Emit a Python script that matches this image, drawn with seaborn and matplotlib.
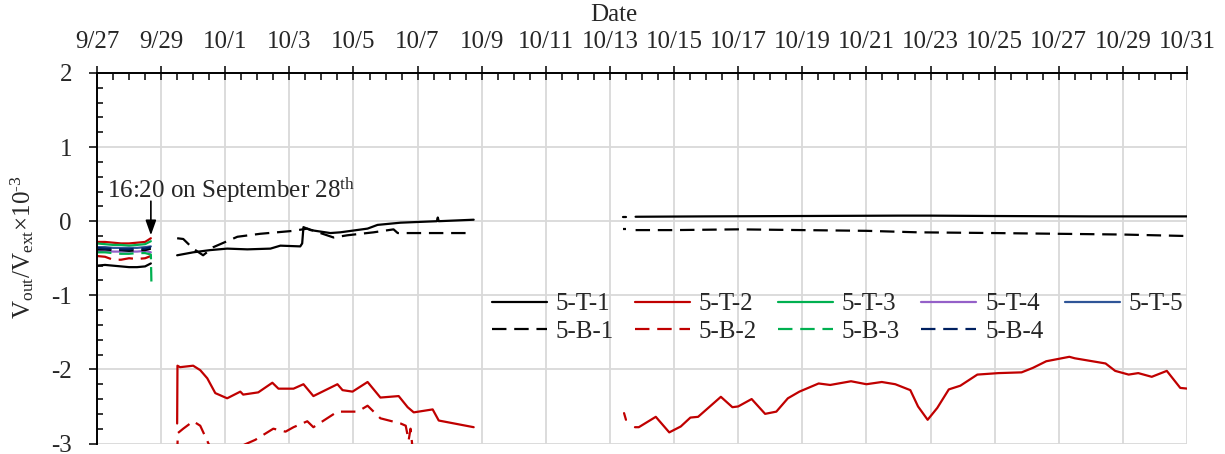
import pandas as pd
import matplotlib
matplotlib.use("Agg")
import matplotlib.pyplot as plt
import seaborn as sns

# ---------------------------------------------------------------- data
START = pd.Timestamp("2019-09-27")          # time axis origin (days since 27 Sep 00:00)

sensors = ["5-T-1", "5-T-2", "5-T-3", "5-T-4", "5-T-5",
           "5-B-1", "5-B-2", "5-B-3", "5-B-4"]
colors = ["#000000", "#C00000", "#00B050", "#9460C8", "#2F5597",
          "#000000", "#C00000", "#00B050", "#002060"]

x_tick_labels = ["9/27", "9/29", "10/1", "10/3", "10/5", "10/7", "10/9", "10/11",
                 "10/13", "10/15", "10/17", "10/19", "10/21", "10/23", "10/25",
                 "10/27", "10/29", "10/31"]
y_ticks = [-3, -2, -1, 0, 1, 2]
y_tick_labels = ["-3", "-2", "-1", "0", "1", "2"]

# first period: all gauges, until 16:20 on 28 Sep
early_days = [0.0, 0.25, 0.5, 0.75, 1.0, 1.25, 1.5, 1.68]
t1_early = [-0.60, -0.59, -0.60, -0.61, -0.62, -0.62, -0.61, -0.57]
t2_early = [-0.28, -0.28, -0.29, -0.30, -0.30, -0.29, -0.28, -0.23]
t3_early = [-0.30, -0.31, -0.32, -0.32, -0.33, -0.32, -0.31, -0.27]
t4_early = [-0.40, -0.40, -0.41, -0.41, -0.41, -0.41, -0.40, -0.42]
t5_early = [-0.35, -0.35, -0.36, -0.36, -0.36, -0.36, -0.35, -0.34]
b1_early = [-0.38, -0.38, -0.39, -0.39, -0.40, -0.39, -0.39, -0.37]
b2_early = [-0.47, -0.48, -0.52, -0.52, -0.50, -0.51, -0.50, -0.47]
b3_early_days = [0.0, 0.25, 0.5, 0.75, 1.0, 1.25, 1.5, 1.68, 1.70]
b3_early = [-0.42, -0.42, -0.43, -0.44, -0.44, -0.43, -0.43, -0.45, -0.90]
b4_early = [-0.36, -0.37, -0.37, -0.38, -0.38, -0.37, -0.37, -0.35]

# second period: 29 Sep - 8 Oct
t1_mid_days = [2.50, 2.75, 3.00, 3.53, 4.06, 4.69, 5.41, 5.72, 6.34, 6.40, 6.44,
               6.66, 7.28, 7.59, 8.44, 8.75, 9.47, 10.60, 10.63, 10.66, 11.75]
t1_mid = [-0.46, -0.44, -0.42, -0.39, -0.37, -0.38, -0.37, -0.33, -0.34, -0.30, -0.08,
          -0.12, -0.16, -0.15, -0.10, -0.05, -0.02, 0.00, 0.05, 0.00, 0.02]
b1_mid_days = [2.50, 2.69, 3.00, 3.31, 3.63, 4.38, 5.09, 6.13, 6.56, 7.38, 7.81,
               8.63, 9.25, 9.38, 9.69, 11.66]
b1_mid = [-0.23, -0.24, -0.37, -0.46, -0.35, -0.21, -0.17, -0.13, -0.10, -0.22, -0.19,
          -0.15, -0.11, -0.16, -0.16, -0.16]
t2_mid_days = [2.50, 2.51, 2.59, 3.00, 3.22, 3.44, 3.69, 4.06, 4.47, 4.56, 5.03, 5.47,
               5.66, 6.13, 6.44, 6.75, 7.50, 7.66, 7.97, 8.44, 8.84, 9.41, 9.69, 9.88,
               10.47, 10.66, 11.75]
t2_mid = [-2.73, -1.95, -1.97, -1.95, -2.01, -2.12, -2.32, -2.39, -2.30, -2.34, -2.31, -2.18,
          -2.26, -2.26, -2.20, -2.36, -2.20, -2.28, -2.30, -2.17, -2.38, -2.36, -2.51, -2.58,
          -2.54, -2.69, -2.78]
b2_mid_days = [2.50, 2.52, 2.69, 3.00, 3.22, 3.53, 4.00, 4.47, 4.94, 5.50, 5.88, 6.13,
               6.56, 6.75, 7.50, 8.13, 8.44, 8.84, 9.47, 9.63, 9.72, 9.78, 9.84, 10.09]
b2_mid = [-3.20, -2.86, -2.80, -2.70, -2.76, -3.05, -3.15, -3.04, -2.95, -2.80, -2.84, -2.78,
          -2.70, -2.78, -2.57, -2.57, -2.49, -2.66, -2.73, -2.76, -2.96, -2.80, -3.05, -3.10]

# third period: 13 Oct - 31 Oct (short first reading, then continuous record)
blip_days = [16.40, 16.50]
t1_blip = [0.06, 0.06]
b1_blip = [-0.11, -0.11]
t2_blip_days = [16.44, 16.50]
t2_blip = [-2.59, -2.68]
t1_late_days = [16.80, 19.0, 22.0, 25.0, 26.0, 28.0, 31.0, 34.0]
t1_late = [0.06, 0.065, 0.07, 0.075, 0.075, 0.07, 0.065, 0.065]
b1_late_days = [16.80, 18.0, 20.0, 22.0, 24.0, 25.6, 28.0, 30.0, 32.0, 34.0]
b1_late = [-0.12, -0.12, -0.11, -0.12, -0.13, -0.15, -0.16, -0.17, -0.18, -0.20]
t2_late_days = [16.78, 16.90, 17.43, 17.85, 18.21, 18.51, 18.75, 19.46, 19.82, 20.00,
                20.42, 20.84, 21.19, 21.55, 21.91, 22.51, 22.87, 23.52, 24.00, 24.48,
                24.90, 25.37, 25.61, 25.91, 26.21, 26.57, 26.93, 27.46, 28.12, 28.84,
                29.19, 29.61, 30.33, 30.50, 31.46, 31.76, 32.18, 32.48, 32.90, 33.37,
                33.79, 34.03]
t2_late = [-2.78, -2.78, -2.64, -2.85, -2.77, -2.65, -2.64, -2.37, -2.51, -2.50,
           -2.40, -2.60, -2.57, -2.39, -2.30, -2.19, -2.21, -2.16, -2.20, -2.17,
           -2.20, -2.28, -2.50, -2.68, -2.52, -2.27, -2.22, -2.07, -2.05, -2.04,
           -1.98, -1.89, -1.83, -1.85, -1.92, -2.02, -2.07, -2.05, -2.10, -2.02,
           -2.25, -2.26]

# annotation of the switch-over time
event_day = 1 + (16 * 60 + 20) / (24 * 60)

segments = [
    ("5-T-1", early_days, t1_early), ("5-T-2", early_days, t2_early),
    ("5-T-3", early_days, t3_early), ("5-T-4", early_days, t4_early),
    ("5-T-5", early_days, t5_early), ("5-B-1", early_days, b1_early),
    ("5-B-2", early_days, b2_early), ("5-B-3", b3_early_days, b3_early),
    ("5-B-4", early_days, b4_early),
    ("5-T-1", t1_mid_days, t1_mid), ("5-B-1", b1_mid_days, b1_mid),
    ("5-T-2", t2_mid_days, t2_mid), ("5-B-2", b2_mid_days, b2_mid),
    ("5-T-1", blip_days, t1_blip), ("5-B-1", blip_days, b1_blip),
    ("5-T-2", t2_blip_days, t2_blip),
    ("5-T-1", t1_late_days, t1_late), ("5-B-1", b1_late_days, b1_late),
    ("5-T-2", t2_late_days, t2_late),
]

frames = []
for seg_id, (name, days, vals) in enumerate(segments):
    frames.append(pd.DataFrame({
        "sensor": name,
        "segment": seg_id,
        "time": START + pd.to_timedelta(days, unit="D"),
        "value": vals,
    }))
df = pd.concat(frames, ignore_index=True)

# ---------------------------------------------------------------- style
sns.set_style("ticks")
plt.rcParams.update({
    "font.family": ["Liberation Serif", "DejaVu Serif"],
    "font.size": 18,
    "mathtext.fontset": "custom",
    "mathtext.rm": "Liberation Serif",
    "mathtext.it": "Liberation Serif:italic",
    "mathtext.bf": "Liberation Serif:bold",
    "axes.unicode_minus": False,
    "lines.solid_joinstyle": "round",
    "lines.dash_joinstyle": "round",
})

fig = plt.figure(figsize=(12.25, 4.54), dpi=100)
ax = fig.add_axes([97 / 1225, 1 - 443.5 / 454, 1090 / 1225, 370.5 / 454])

palette = dict(zip(sensors, colors))
dashes = {s: ("" if "-T-" in s else (6.5, 3.5)) for s in sensors}

sns.lineplot(data=df, x="time", y="value", hue="sensor", style="sensor",
             hue_order=sensors, style_order=sensors, palette=palette,
             dashes=dashes, units="segment", estimator=None, sort=False,
             linewidth=1.6, ax=ax)

# ---------------------------------------------------------------- axes
x_ticks = pd.to_datetime(["2019/" + lab for lab in x_tick_labels])
ax.set_xlim(x_ticks[0], x_ticks[-1])
ax.set_xticks(x_ticks, x_tick_labels)
ax.xaxis.set_minor_locator(matplotlib.dates.HourLocator(byhour=[0, 12]))
ax.xaxis.tick_top()
ax.xaxis.set_label_position("top")
ax.set_xlabel("")

ax.set_ylim(-3, 2)
ax.set_yticks(y_ticks, y_tick_labels)
ax.yaxis.set_minor_locator(matplotlib.ticker.MultipleLocator(0.2))
ax.set_ylabel(r"V$_{\mathrm{out}}$/V$_{\mathrm{ext}}$×10$^{\text{-3}}$", fontsize=18, va="center")
ax.yaxis.set_label_coords(-0.069, 0.53)

ax.tick_params(axis="x", which="major", direction="inout", length=9.5, width=1.3,
               pad=9.5, labelsize=18, top=True, bottom=False)
ax.tick_params(axis="x", which="minor", direction="in", length=5, width=1.3,
               top=True, bottom=False)
ax.tick_params(axis="y", which="major", direction="out", length=6, width=1.3,
               pad=12, labelsize=18)
ax.tick_params(axis="y", which="minor", direction="in", length=4, width=1.3)

ax.grid(True, which="major", color="#d9d9d9", linewidth=1.3)
ax.set_axisbelow(True)
for side in ("right", "bottom"):
    ax.spines[side].set_visible(False)
for side in ("left", "top"):
    ax.spines[side].set_linewidth(1.4)
    ax.spines[side].set_color("black")

fig.text(614 / 1225, 1 - 15 / 454, "Date", ha="center", va="center", fontsize=18)

# ---------------------------------------------------------------- annotation
event_time = START + pd.to_timedelta(event_day, unit="D")
ax.annotate("", xy=(event_time, -0.19), xytext=(event_time, 0.27),
            arrowprops=dict(arrowstyle="-|>,head_length=0.45,head_width=0.16",
                            color="black", lw=1.2, mutation_scale=20,
                            shrinkA=0, shrinkB=0))
ax.text(START + pd.to_timedelta(0.31, unit="D"), 0.32,
        r"16:20 on September 28$^{\mathrm{th}}$", ha="left", va="baseline", fontsize=18)

# ---------------------------------------------------------------- legend
handles, labels = ax.get_legend_handles_labels()
lookup = dict(zip(labels, handles))
if ax.get_legend() is not None:
    ax.get_legend().remove()
order = ["5-T-1", "5-B-1", "5-T-2", "5-B-2", "5-T-3", "5-B-3", "5-T-4", "5-B-4", "5-T-5"]
ax.legend([lookup[k] for k in order], order, ncol=5, loc="center left",
          bbox_to_anchor=(0.362, 0.339), frameon=False, fontsize=18,
          handlelength=2.2, handletextpad=0.35, columnspacing=0.85,
          labelspacing=0.2, borderpad=0, borderaxespad=0)

fig.savefig("out.png", dpi=100)
